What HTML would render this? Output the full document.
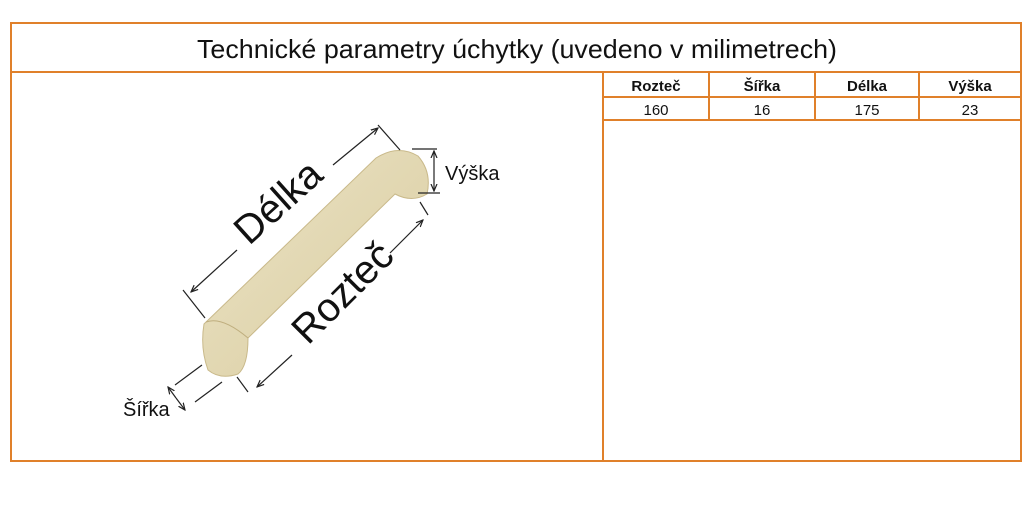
<!DOCTYPE html>
<html><head><meta charset="utf-8"><style>
body{margin:0;background:#fff;width:1035px;height:508px;overflow:hidden;font-family:"Liberation Sans",sans-serif}
</style></head><body>
<svg width="1035" height="508" xmlns="http://www.w3.org/2000/svg" font-family="Liberation Sans, sans-serif">
<defs>
<marker id="a" markerWidth="8" markerHeight="8" refX="7" refY="4" orient="auto" markerUnits="userSpaceOnUse"><path d="M0,1 L7,4 L0,7" fill="none" stroke="#222" stroke-width="1.2"/></marker>
<linearGradient id="g" x1="0" y1="0" x2="1" y2="1"><stop offset="0" stop-color="#ebe3c6"/><stop offset="1" stop-color="#d9cc9f"/></linearGradient>
</defs>
<g fill="none" stroke="#e0802a" stroke-width="2">
<rect x="11" y="23" width="1010" height="438"/>
<line x1="11" y1="72" x2="1021" y2="72"/>
<line x1="603" y1="72" x2="603" y2="461"/>
<line x1="603" y1="97" x2="1021" y2="97"/>
<line x1="603" y1="120" x2="1021" y2="120"/>
<line x1="709" y1="72" x2="709" y2="120"/>
<line x1="815" y1="72" x2="815" y2="120"/>
<line x1="919" y1="72" x2="919" y2="120"/>
</g>
<text x="517" y="58" font-size="26" text-anchor="middle" fill="#111" textLength="640" lengthAdjust="spacingAndGlyphs">Technické parametry úchytky (uvedeno v milimetrech)</text>
<g font-size="15" font-weight="bold" text-anchor="middle" fill="#111">
<text x="656" y="91">Rozteč</text><text x="762" y="91">Šířka</text><text x="867" y="91">Délka</text><text x="970" y="91">Výška</text>
</g>
<g font-size="15" text-anchor="middle" fill="#111">
<text x="656" y="115">160</text><text x="762" y="115">16</text><text x="867" y="115">175</text><text x="970" y="115">23</text>
</g>
<path d="M204,324 L376,158 Q398,144 418,156 Q432,172 427,194 Q412,203 395,194 L248,338 Q248,366 238,374 Q220,380 208,370 Q200,348 204,324 Z" fill="url(#g)" stroke="#c9b98a" stroke-width="1"/>
<path d="M206,322 Q222,316 248,338" fill="none" stroke="#bfae7e"/>
<g stroke="#222" stroke-width="1.2" fill="none">
<line x1="183" y1="290" x2="205" y2="318"/>
<line x1="378" y1="125" x2="400" y2="150"/>
<line x1="237" y1="250" x2="191" y2="292" marker-end="url(#a)"/>
<line x1="333" y1="165" x2="378" y2="128" marker-end="url(#a)"/>
<line x1="420" y1="202" x2="428" y2="215"/>
<line x1="237" y1="377" x2="248" y2="392"/>
<line x1="390" y1="253" x2="423" y2="220" marker-end="url(#a)"/>
<line x1="292" y1="355" x2="257" y2="387" marker-end="url(#a)"/>
<line x1="202" y1="365" x2="175" y2="385"/>
<line x1="222" y1="382" x2="195" y2="402"/>
<line x1="176" y1="398" x2="168" y2="387" marker-end="url(#a)"/>
<line x1="176" y1="398" x2="185" y2="410" marker-end="url(#a)"/>
<line x1="412" y1="149" x2="437" y2="149"/>
<line x1="418" y1="193" x2="440" y2="193"/>
<line x1="434" y1="170" x2="434" y2="151" marker-end="url(#a)"/>
<line x1="434" y1="170" x2="434" y2="191" marker-end="url(#a)"/>
</g>
<text transform="translate(287,212) rotate(-42)" font-size="40" text-anchor="middle" fill="#111">Délka</text>
<text transform="translate(352,302) rotate(-45)" font-size="40" text-anchor="middle" fill="#111">Rozteč</text>
<text x="445" y="180" font-size="20" fill="#111">Výška</text>
<text x="123" y="416" font-size="20" fill="#111">Šířka</text>
</svg>
</body></html>
